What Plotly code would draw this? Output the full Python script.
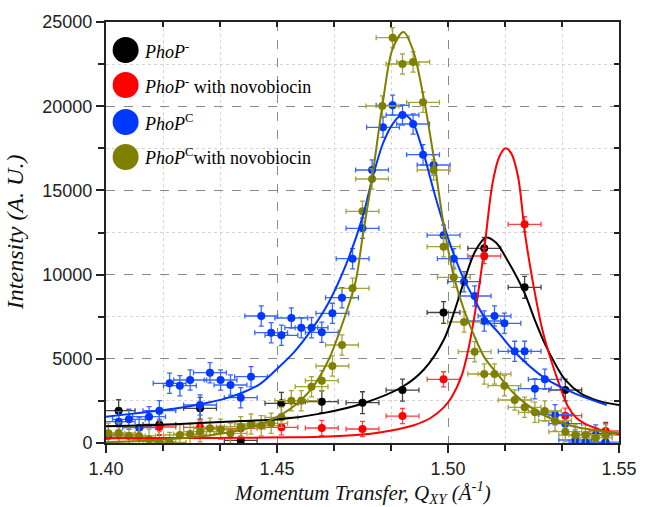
import plotly.graph_objects as go

# ---------------- measured points ----------------
q_black = [1.4037, 1.4156, 1.4275, 1.4394, 1.4513, 1.4631, 1.4750, 1.4867, 1.4987, 1.5106, 1.5224, 1.5343, 1.5461]
i_black = [1918, 1100, 2060, 150, 2357, 2452, 2393, 3140, 7750, 11560, 9245, 3147, 576]

q_red = [1.4037, 1.4156, 1.4275, 1.4394, 1.4513, 1.4631, 1.4750, 1.4867, 1.4987, 1.5106, 1.5224, 1.5343, 1.5461]
i_red = [500, 950, 932, 873, 932, 891, 831, 1600, 3782, 11104, 12986, 1621, 713]

q_blue = [1.4007, 1.4037, 1.4067, 1.4097, 1.4126, 1.4156, 1.4186, 1.4216, 1.4246, 1.4275,
          1.4304, 1.4335, 1.4364, 1.4394, 1.4424, 1.4454, 1.4483, 1.4513, 1.4542, 1.4571,
          1.4601, 1.4631, 1.4662, 1.4690, 1.4721, 1.4750, 1.4778, 1.4810, 1.4838, 1.4867,
          1.4898, 1.4927, 1.4958, 1.4987, 1.5017, 1.5047, 1.5078, 1.5106, 1.5136, 1.5165,
          1.5195, 1.5224, 1.5254, 1.5283, 1.5313, 1.5343, 1.5372, 1.5402, 1.5432, 1.5461]
i_blue = [416, 1266, 1405, 909, 1562, 1918, 3545, 3403, 3741, 2256,
          4174, 3741, 3444, 2690, 3937, 7541, 6550, 6395, 7423, 6847,
          6847, 6573, 7700, 8629, 10945, 12748, 16211, 18746, 20052, 19476,
          18942, 17120, 16508, 12340, 10945, 9578, 8729, 7244, 7541, 7108,
          5443, 5443, 3224, 3782, 1680, 1146, 178, 50, 475, 50]

q_olive = [1.4007, 1.4037, 1.4067, 1.4097, 1.4126, 1.4156, 1.4186, 1.4216, 1.4246, 1.4275,
           1.4304, 1.4335, 1.4364, 1.4394, 1.4424, 1.4454, 1.4483, 1.4513, 1.4542, 1.4571,
           1.4601, 1.4631, 1.4662, 1.4690, 1.4721, 1.4750, 1.4778, 1.4808, 1.4838, 1.4867,
           1.4898, 1.4927, 1.4958, 1.4987, 1.5017, 1.5047, 1.5078, 1.5106, 1.5136, 1.5165,
           1.5195, 1.5224, 1.5254, 1.5283, 1.5313, 1.5343, 1.5372, 1.5402, 1.5432, 1.5461]
i_olive = [576, 600, 416, 420, 220, 80, 30, 475, 534, 671,
           873, 813, 576, 968, 1128, 1027, 1170, 1526, 2512, 2512,
           3343, 3699, 4572, 5819, 9186, 13758, 15676, 20011, 24067, 22505,
           22624, 20230, 16211, 11656, 9839, 7185, 5421, 4097, 4097, 3403,
           2553, 2120, 1823, 1900, 1324, 671, 475, 475, 300, 475]

# uncertainties
dq = 0.0048
di_black, di_red, di_blue, di_olive = 650, 450, 600, 600

# ---------------- fitted profiles ----------------
fq_black = [1.400, 1.420, 1.440, 1.4513, 1.4631, 1.4751, 1.4867, 1.4929, 1.4987, 1.5020, 1.5050,
            1.5080, 1.5111, 1.5140, 1.5178, 1.5224, 1.5254, 1.5283, 1.5312, 1.5343, 1.5388, 1.5440, 1.5500]
fi_black = [1000, 1120, 1300, 1420, 1760, 2350, 3340, 4350, 6100, 7900, 9800,
            11400, 12200, 11900, 10700, 8900, 7300, 5900, 4750, 3750, 2950, 2500, 2250]

fq_red = [1.400, 1.420, 1.440, 1.455, 1.465, 1.475, 1.480, 1.485, 1.490, 1.495, 1.4987, 1.501,
          1.504, 1.506, 1.5085, 1.5106, 1.513, 1.515, 1.5168, 1.5185, 1.5205, 1.5224, 1.524,
          1.5254, 1.5275, 1.530, 1.5325, 1.535, 1.5375, 1.540, 1.543, 1.546, 1.550]
fi_red = [280, 290, 310, 340, 390, 500, 620, 800, 1050, 1500, 2100, 2700,
          4000, 5600, 8500, 11500, 15400, 17000, 17500, 17200, 15800, 12600, 10500,
          8900, 6800, 5000, 3500, 2200, 1500, 1150, 900, 700, 520]

fq_blue = [1.400, 1.406, 1.412, 1.418, 1.424, 1.430, 1.435, 1.440, 1.445, 1.450, 1.455, 1.460,
           1.465, 1.470, 1.475, 1.478, 1.481, 1.484, 1.4867, 1.4895, 1.4927, 1.4958, 1.4987,
           1.5017, 1.5047, 1.5078, 1.5106, 1.5150, 1.5195, 1.5283, 1.5370, 1.5464]
fi_blue = [1560, 1700, 1840, 1990, 2170, 2400, 2650, 3000, 3500, 4400, 5400, 6700,
           8300, 10500, 13400, 15800, 17800, 19000, 19500, 19100, 17300, 15000, 13000,
           11200, 9700, 8500, 7500, 6500, 5400, 3850, 2950, 2260]

fq_olive = [1.400, 1.410, 1.420, 1.430, 1.440, 1.445, 1.450, 1.455, 1.460, 1.465, 1.470, 1.473,
            1.4750, 1.4780, 1.4810, 1.4838, 1.4870, 1.4898, 1.4927, 1.4958, 1.4987, 1.5017,
            1.5047, 1.5078, 1.5106, 1.5136, 1.5195, 1.5254, 1.5312, 1.5370, 1.5428, 1.5500]
fi_olive = [50, 120, 250, 450, 800, 1100, 1550, 2200, 3200, 4900, 7600, 9600,
            12200, 16000, 20300, 23400, 24400, 23300, 20700, 17000, 13000, 9900,
            7900, 6300, 5100, 4300, 2900, 1950, 1350, 970, 770, 580]

# ---------------- styling ----------------
C_BLACK, C_RED, C_BLUE, C_OLIVE = "#000000", "#ff0000", "#0038ff", "#7f7f00"
E_BLACK, E_RED, E_BLUE, E_OLIVE = "#444444", "#ff4040", "#3a64ff", "#a3a338"

legend_rows = [
    ("<i>PhoP</i><sup>-</sup>", C_BLACK),
    ("<i>PhoP</i><sup>-</sup> with novobiocin", C_RED),
    ("<i>PhoP</i><sup>C</sup>", C_BLUE),
    ("<i>PhoP</i><sup>C</sup>with novobiocin", C_OLIVE),
]

fig = go.Figure()


def add_points(q, inten, dint, col, ecol):
    fig.add_trace(go.Scatter(
        x=q, y=inten, mode="markers",
        marker=dict(color=col, size=8),
        error_x=dict(type="constant", value=dq, color=ecol, thickness=1.3, width=2.5),
        error_y=dict(type="constant", value=dint, color=ecol, thickness=1.3, width=2.5),
        showlegend=False, hoverinfo="skip"))


add_points(q_black, i_black, di_black, C_BLACK, E_BLACK)
add_points(q_red, i_red, di_red, C_RED, E_RED)
add_points(q_blue, i_blue, di_blue, C_BLUE, E_BLUE)
add_points(q_olive, i_olive, di_olive, C_OLIVE, E_OLIVE)

for fq, fi, col in [(fq_black, fi_black, C_BLACK), (fq_red, fi_red, C_RED),
                    (fq_blue, fi_blue, C_BLUE), (fq_olive, fi_olive, C_OLIVE)]:
    fig.add_trace(go.Scatter(x=fq, y=fi, mode="lines",
                             line=dict(color=col, width=2, shape="spline", smoothing=0.9),
                             showlegend=False, hoverinfo="skip"))

# helper traces so the top and right frame axes are drawn
fig.add_trace(go.Scatter(x=[None], y=[None], xaxis="x2", yaxis="y", showlegend=False))
fig.add_trace(go.Scatter(x=[None], y=[None], xaxis="x", yaxis="y2", showlegend=False))

XR = [1.40, 1.55]
YR = [0, 25000]
FRAME = "#222222"
tick_font = dict(family="Liberation Sans, Arial, sans-serif", size=18, color="#222222")

fig.update_layout(
    width=649, height=507,
    margin=dict(l=106, r=20, t=22, b=64),
    paper_bgcolor="white", plot_bgcolor="white",
    xaxis=dict(range=XR, tick0=1.40, dtick=0.05, tickformat=".2f",
               ticks="outside", ticklen=8, tickwidth=1.5, tickcolor=FRAME,
               showline=True, linewidth=2, linecolor=FRAME, mirror=True,
               showgrid=True, gridcolor="#8a8a8a", griddash="dash", gridwidth=1,
               zeroline=False, tickfont=tick_font,
               minor=dict(dtick=0.05 / 3, ticks="outside", ticklen=6, tickwidth=1.5,
                          tickcolor=FRAME, showgrid=True, gridcolor="#d4d4d4",
                          griddash="dot", gridwidth=1)),
    yaxis=dict(range=YR, tick0=0, dtick=5000, tickformat="d",
               ticks="outside", ticklen=8, tickwidth=1.5, tickcolor=FRAME,
               showline=True, linewidth=2, linecolor=FRAME, mirror=True,
               showgrid=True, gridcolor="#8a8a8a", griddash="dash", gridwidth=1,
               zeroline=False, tickfont=tick_font,
               minor=dict(dtick=2500, ticks="outside", ticklen=6, tickwidth=1.5,
                          tickcolor=FRAME, showgrid=True, gridcolor="#d4d4d4",
                          griddash="dot", gridwidth=1)),
    xaxis2=dict(range=XR, overlaying="x", side="top", anchor="y",
                tick0=1.40, dtick=0.05, ticks="inside", ticklen=5, tickwidth=1.5,
                tickcolor=FRAME, showticklabels=False, showgrid=False, zeroline=False,
                showline=False,
                minor=dict(dtick=0.05 / 3, ticks="inside", ticklen=5, tickwidth=1.5,
                           tickcolor=FRAME, showgrid=False)),
    yaxis2=dict(range=YR, overlaying="y", side="right", anchor="x",
                tick0=0, dtick=5000, ticks="inside", ticklen=5, tickwidth=1.5,
                tickcolor=FRAME, showticklabels=False, showgrid=False, zeroline=False,
                showline=False,
                minor=dict(dtick=2500, ticks="inside", ticklen=5, tickwidth=1.5,
                           tickcolor=FRAME, showgrid=False)),
)

# axis titles
serif = "Liberation Serif, Times New Roman, serif"
fig.add_annotation(xref="paper", yref="paper", x=0.5, y=-0.118, yanchor="middle",
                   text="<i>Momentum Transfer, Q<sub>XY</sub> (Å<sup>-1</sup>)</i>",
                   showarrow=False, font=dict(family=serif, size=21, color="#111111"))
fig.add_annotation(xref="paper", yref="paper", x=-0.178, y=0.5, xanchor="center",
                   textangle=-90, text="<i>Intensity (A. U.)</i>",
                   showarrow=False, font=dict(family=serif, size=24, color="#111111"))

# legend drawn as circles and labels inside the plot
PLOT_L, PLOT_W, PLOT_B, PLOT_H = 106, 523, 443, 421
row_y = [50, 85, 122, 157]
for (label, col), py in zip(legend_rows, row_y):
    yp = (PLOT_B - py) / PLOT_H
    xp = (126 - PLOT_L) / PLOT_W
    fig.add_shape(type="circle", xref="paper", yref="paper",
                  xsizemode="pixel", ysizemode="pixel", xanchor=xp, yanchor=yp,
                  x0=-13, x1=13, y0=-13, y1=13,
                  fillcolor=col, line=dict(width=0))
    fig.add_annotation(xref="paper", yref="paper", x=(143 - PLOT_L) / PLOT_W, y=yp,
                       xanchor="left", yanchor="middle", text=label, showarrow=False,
                       font=dict(family=serif, size=18, color="#000000"))

fig.write_html("out.html")
